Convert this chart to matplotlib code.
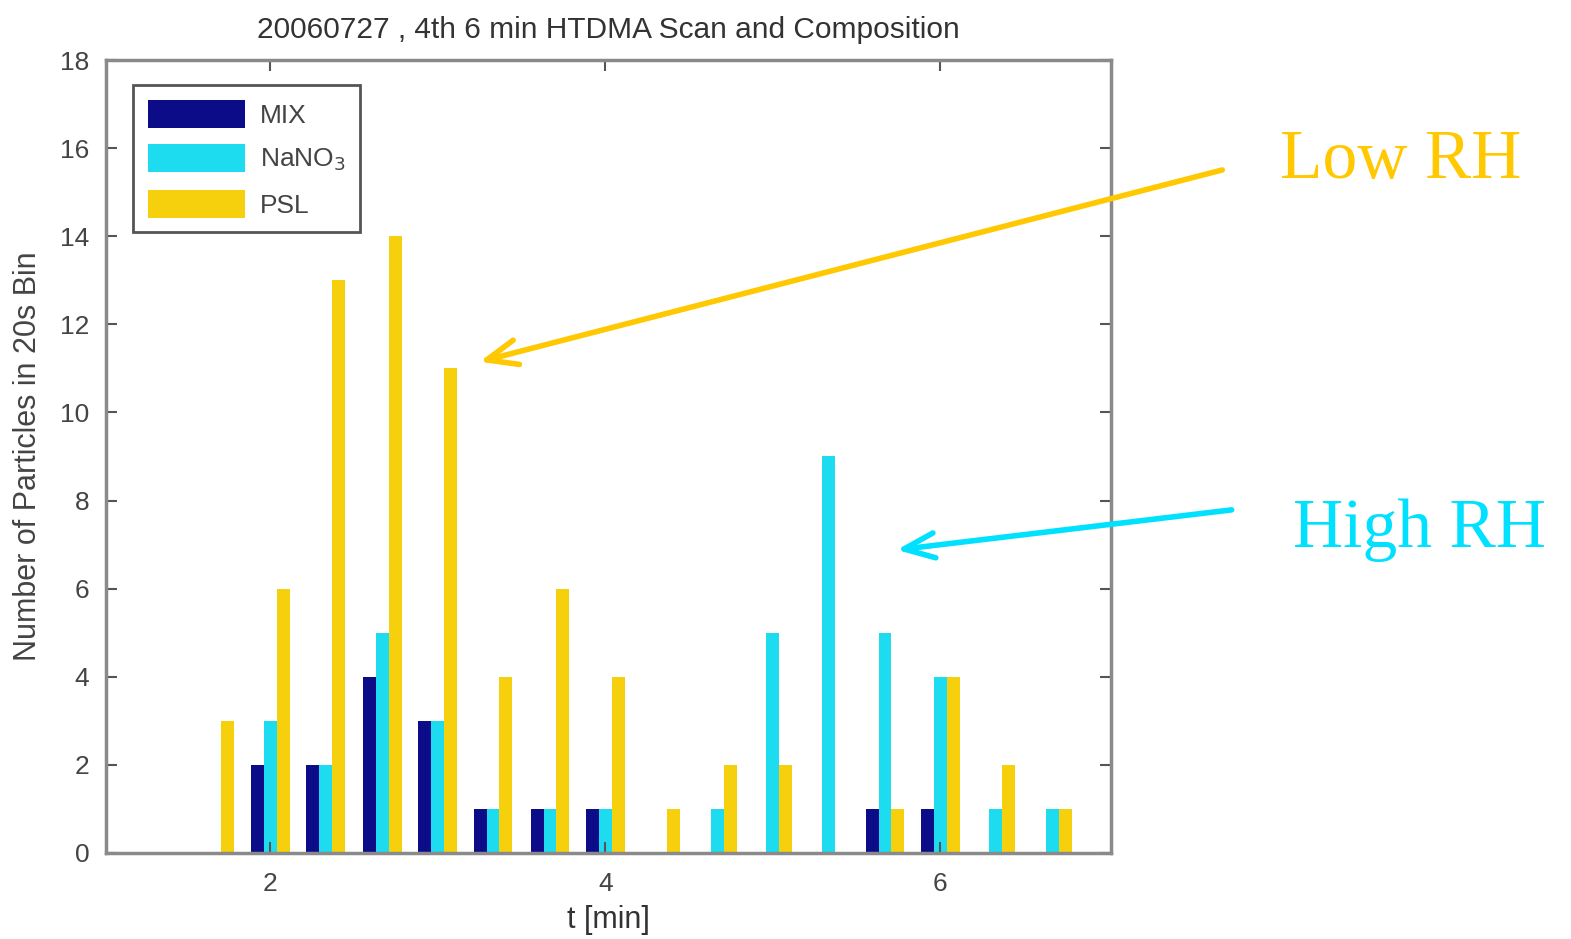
import matplotlib
matplotlib.use("Agg")
import matplotlib.pyplot as plt
import numpy as np

# time bin centres [min] and counts per 20 s bin
t_min = [1.67, 2.0, 2.33, 2.67, 3.0, 3.33, 3.67, 4.0, 4.33, 4.67, 5.0, 5.33, 5.67, 6.0, 6.33, 6.67]
mix = [0, 2, 2, 4, 3, 1, 1, 1, 0, 0, 0, 0, 1, 1, 0, 0]
nano3 = [0, 3, 2, 5, 3, 1, 1, 1, 0, 1, 5, 9, 5, 4, 1, 1]
psl = [3, 6, 13, 14, 11, 4, 6, 4, 1, 2, 2, 0, 1, 4, 2, 1]

series_names = ["MIX", "NaNO$_3$", "PSL"]
series_colors = ["#0c0c88", "#1edcf0", "#f6d00c"]

plt.rcParams["font.family"] = ["Liberation Sans", "DejaVu Sans"]

fig = plt.figure(figsize=(15.71, 9.39), dpi=100)
ax = fig.add_axes([0.0675, 0.0916, 0.6398, 0.8445])

w = 0.077
x = np.array(t_min)
for k, (vals, name, col) in enumerate(zip([mix, nano3, psl], series_names, series_colors)):
    ax.bar(x + (k - 1) * w, vals, width=w, color=col, label=name, linewidth=0)

ax.set_xlim(1.02, 7.02)
ax.set_ylim(0, 18)
ax.set_xticks([2, 4, 6])
ax.set_yticks(range(0, 19, 2))
ax.tick_params(direction="in", length=8, width=1.5, colors="#555555",
               labelcolor="#444444", labelsize=19, top=True, right=True)
ax.tick_params(axis="x", pad=14)
ax.tick_params(axis="y", pad=12)
for s in ax.spines.values():
    s.set_color("#8a8a8a")
    s.set_linewidth(2.5)

ax.set_title("20060727 , 4th 6 min HTDMA Scan and Composition", fontsize=21.5,
             color="#333333", pad=16)
ax.set_xlabel("t [min]", fontsize=22, color="#333333", labelpad=6)
ax.set_ylabel("Number of Particles in 20s Bin", fontsize=22, color="#444444", labelpad=12)

leg = ax.legend(loc="upper left", bbox_to_anchor=(0.027, 0.968), borderaxespad=0,
                fontsize=19, handlelength=3.7, handleheight=1.25, labelspacing=0.62,
                handletextpad=0.55, borderpad=0.55, fancybox=False, framealpha=1,
                edgecolor="#555555", labelcolor="#444444")
leg.get_frame().set_linewidth(2)

# annotations outside the axes
low_col = "#ffc800"
high_col = "#00e0ff"
fig.text(0.815, 0.810, "Low RH", fontsize=50, color=low_col,
         family="Liberation Serif", va="baseline", ha="left")
fig.text(0.823, 0.4175, "High RH", fontsize=50, color=high_col,
         family="Liberation Serif", va="baseline", ha="left")

ax.annotate("", xy=(3.25, 11.15), xycoords="data",
            xytext=(0.778, 0.819), textcoords="figure fraction",
            arrowprops=dict(arrowstyle="->,head_length=1.1,head_width=0.45",
                            color=low_col, lw=4, mutation_scale=20,
                            shrinkA=0, shrinkB=0),
            annotation_clip=False)
ax.annotate("", xy=(5.74, 6.88), xycoords="data",
            xytext=(0.784, 0.457), textcoords="figure fraction",
            arrowprops=dict(arrowstyle="->,head_length=1.1,head_width=0.45",
                            color=high_col, lw=4, mutation_scale=20,
                            shrinkA=0, shrinkB=0),
            annotation_clip=False)

fig.savefig("out.png", dpi=100, facecolor="white")
